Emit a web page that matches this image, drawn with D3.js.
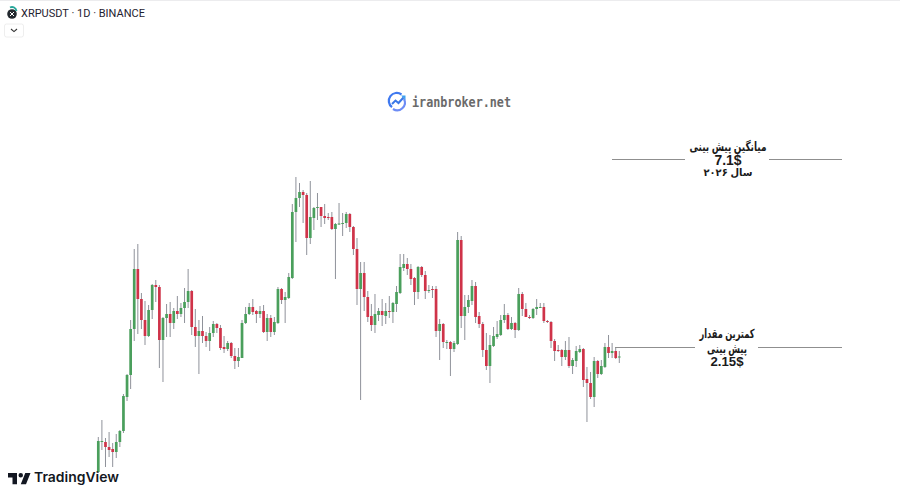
<!DOCTYPE html>
<html><head><meta charset="utf-8">
<style>html,body{margin:0;padding:0;background:#fff}svg{display:block}</style>
<script src="https://cdn.jsdelivr.net/npm/d3@7"></script></head>
<body><svg id="c" width="900" height="485"></svg>
<script>
const symbolTitle = "XRPUSDT · 1D · BINANCE";
const brand = "iranbroker.net";
const opens = [.90,1.20,1.20,1.15,1.13,1.10,1.20,1.31,1.65,1.87,2.33,2.93,2.63,2.42,2.26,2.52,2.77,2.75,2.22,2.44,2.48,2.39,2.51,2.48,2.54,2.60,2.71,2.35,2.26,2.31,2.26,2.21,2.29,
2.38,2.34,2.15,2.13,2.19,2.06,2.01,2.04,2.39,2.48,2.55,2.51,2.48,2.51,2.30,2.44,2.30,2.39,2.73,2.62,2.64,2.84,3.50,3.64,3.70,3.67,3.24,3.44,3.54,3.55,3.46,3.45,3.45,3.33,3.38,3.38,3.39,3.48,3.35,3.13,
2.73,2.89,2.65,2.46,2.37,2.47,2.51,2.46,2.51,2.50,2.58,2.69,2.94,2.98,2.93,2.84,2.70,2.95,2.87,2.72,2.73,2.73,2.31,2.38,2.20,2.20,2.13,2.18,3.22,2.46,2.55,2.61,2.76,2.46,2.38,2.12,1.96,2.16,
2.25,2.27,2.42,2.47,2.33,2.39,2.32,2.68,2.53,2.45,2.44,2.53,2.55,2.55,2.41,2.40,2.21,2.12,2.12,2.05,2.12,1.96,2.01,2.10,2.13,1.83,1.79,1.65,2.01,1.88,1.95,2.15,2.09,2.11,2.05];
const highs = [1.25,1.42,1.24,1.30,1.19,1.28,1.32,1.68,1.88,2.42,3.13,3.18,2.69,2.61,2.57,2.78,2.82,2.77,2.45,2.58,2.60,2.54,2.66,2.59,2.74,2.93,2.72,2.53,2.42,2.46,2.30,2.35,2.41,
2.39,2.37,2.26,2.21,2.20,2.14,2.14,2.42,2.55,2.59,2.63,2.52,2.56,2.57,2.48,2.47,2.45,2.75,2.74,2.70,2.89,3.58,3.85,3.79,3.72,3.69,3.81,3.55,3.69,3.55,3.58,3.49,3.50,3.39,3.59,3.49,3.50,3.49,3.36,3.24,
3.00,3.00,2.71,2.58,2.68,2.54,2.63,2.59,2.66,2.60,2.76,3.08,3.08,3.04,2.98,2.85,2.96,2.96,2.91,2.77,2.76,2.76,2.43,2.39,2.22,2.21,2.21,3.30,3.26,2.67,2.67,2.82,2.80,2.50,2.40,2.29,2.27,2.35,
2.41,2.47,2.58,2.49,2.45,2.40,2.74,2.70,2.59,2.47,2.54,2.63,2.59,2.59,2.42,2.41,2.23,2.17,2.13,2.21,2.25,2.04,2.16,2.17,2.14,1.95,1.90,2.05,2.02,2.02,2.19,2.27,2.19,2.14,2.11];
const lows = [.89,1.12,.95,1.05,.95,1.04,1.15,1.29,1.61,1.73,2.21,2.28,2.33,2.17,2.25,2.43,2.60,1.94,1.80,2.25,2.25,2.33,2.43,2.45,2.39,2.54,2.27,2.15,1.88,2.19,2.15,2.11,2.25,
2.29,2.12,2.09,2.11,2.04,1.93,1.95,2.04,2.38,2.47,2.47,2.39,2.44,2.29,2.21,2.25,2.27,2.38,2.58,2.39,2.63,2.83,3.20,3.55,3.39,3.07,3.18,3.32,3.42,3.35,3.38,3.42,3.32,2.83,3.37,3.26,3.34,3.30,3.07,2.57,
1.62,2.51,2.40,2.31,2.29,2.41,2.36,2.38,2.44,2.39,2.50,2.68,2.91,2.87,2.77,2.57,2.63,2.85,2.63,2.69,2.64,2.25,2.02,2.14,2.13,1.86,2.10,2.17,2.34,2.22,2.49,2.57,2.39,2.34,2.05,1.92,1.79,2.15,
2.23,2.26,2.39,2.32,2.32,2.24,2.31,2.46,2.45,2.43,2.43,2.47,2.54,2.39,2.39,2.14,2.01,2.10,1.96,2.02,1.94,1.88,1.95,2.09,1.75,1.40,1.63,1.55,1.84,1.87,1.94,2.04,2.04,2.03,1.99];
const closes = [1.21,1.21,1.15,1.12,1.10,1.20,1.31,1.66,1.87,2.33,2.93,2.63,2.42,2.26,2.52,2.77,2.75,2.22,2.44,2.48,2.39,2.51,2.48,2.54,2.60,2.71,2.35,2.26,2.31,2.26,2.21,2.29,2.38,
2.34,2.14,2.13,2.19,2.06,2.01,2.05,2.39,2.48,2.55,2.50,2.48,2.51,2.30,2.44,2.30,2.40,2.73,2.62,2.65,2.85,3.50,3.64,3.70,3.67,3.24,3.45,3.54,3.55,3.46,3.44,3.44,3.33,3.38,3.385,3.39,3.48,3.35,3.13,2.73,
2.89,2.65,2.45,2.37,2.48,2.51,2.47,2.51,2.50,2.59,2.70,2.95,2.98,2.93,2.83,2.70,2.95,2.87,2.71,2.72,2.72,2.31,2.38,2.20,2.20,2.13,2.19,3.22,2.46,2.55,2.62,2.76,2.45,2.38,2.12,1.96,2.17,2.26,
2.28,2.42,2.47,2.33,2.39,2.32,2.68,2.53,2.45,2.44,2.53,2.55,2.55,2.41,2.40,2.21,2.11,2.11,2.05,2.12,1.96,2.02,2.11,2.13,1.82,1.79,1.65,2.01,1.88,1.96,2.15,2.09,2.11,2.04,2.055];
const targets = [
  {level:4.03, lines:["میانگین پیش بینی","7.1$","سال ۲۰۲۶"]},
  {level:2.15, lines:["کمترین مقدار","پیش بینی","2.15$"]}
];
const UP="#4a9f5c", DOWN="#cf3349", WICK="#7b7e88";

const svg=d3.select("#c");
const x=d3.scaleLinear().domain([0,opens.length-1]).range([98.3,619.3]);
const y=d3.scaleLinear().domain([.77,5.62]).range([485,0]);
const data=opens.map((o,i)=>({i,o,h:highs[i],l:lows[i],c:closes[i]}));

svg.append("rect").attr("width",900).attr("height",1).attr("fill","#ececee");

// guide lines
const guides=[[612,685,769,842],[615,695,758,842]];
targets.forEach((t,k)=>{
  const g=guides[k];
  [[g[0],g[1]],[g[2],g[3]]].forEach(s=>svg.append("line")
    .attr("x1",s[0]).attr("x2",s[1]).attr("y1",y(t.level)+.5).attr("y2",y(t.level)+.5)
    .attr("stroke","#8f8f8f").attr("stroke-width",1));
});

// candles
const gC=svg.append("g").style("filter","blur(0.25px)");
const cs=gC.selectAll("g").data(data).join("g");
cs.append("line").attr("x1",d=>x(d.i)).attr("x2",d=>x(d.i)).attr("y1",d=>y(d.h)).attr("y2",d=>y(d.l))
  .attr("stroke",WICK).attr("stroke-width",.85);
cs.append("rect").attr("x",d=>x(d.i)-1.35).attr("width",2.7)
  .attr("y",d=>y(Math.max(d.o,d.c))).attr("height",d=>Math.max(1,Math.abs(y(d.o)-y(d.c))))
  .attr("fill",d=>d.c>=d.o?UP:DOWN);

// annotation text
const ann=[{cx:728,ys:[147,160.5,172],fs:[12.5,14,10.5],w:[77,27,49]},{cx:727,ys:[334,348.5,361],fs:[12.5,12.5,13.5],w:[55,40,33]}];
targets.forEach((t,k)=>t.lines.forEach((s,j)=>svg.append("text")
  .attr("x",ann[k].cx).attr("y",ann[k].ys[j]).attr("dy","0.35em").attr("text-anchor","middle")
  .attr("font-family","'Liberation Sans','DejaVu Sans',sans-serif").attr("font-weight","700")
  .attr("font-size",ann[k].fs[j]).attr("fill","#1a1a1a")
  .attr("textLength",ann[k].w[j]).attr("lengthAdjust","spacingAndGlyphs").text(s)));

// header
svg.append("text").attr("x",21).attr("y",17).attr("font-family","Roboto,sans-serif").attr("font-size",11).attr("fill","#1f2230").text(symbolTitle);
const ic=svg.append("g");
ic.append("circle").attr("cx",12).attr("cy",14).attr("r",4.8).attr("fill","#23292f");
ic.append("path").attr("d","M10 12l4 4M14 12l-4 4").attr("stroke","#fff").attr("stroke-width",1);
ic.append("path").attr("d","M10 7.5a4.5 4.5 0 0 1 6.5 3.5").attr("fill","none").attr("stroke","#26a69a").attr("stroke-width",1.8);
svg.append("rect").attr("x",4.5).attr("y",24).attr("width",19).attr("height",13).attr("rx",2).attr("fill","#fff").attr("stroke","#eeeeee");
svg.append("path").attr("d","M11 29l3 2.6 3-2.6").attr("fill","none").attr("stroke","#333").attr("stroke-width",1.1);

// watermark
const wm=svg.append("g").attr("transform","translate(388,93)");
wm.append("path").attr("d","M13.5 1.5A7.7 7.7 0 1 0 4 14.2").attr("fill","none").attr("stroke","#3f79f0").attr("stroke-width",2.2);
wm.append("path").attr("d","M16 6A7.7 7.7 0 0 1 5 16").attr("fill","none").attr("stroke","#6d8cf5").attr("stroke-width",2.2);
wm.append("path").attr("d","M4 11l3.5-3.5 3 2.5 5-5.5").attr("fill","none").attr("stroke","#3b78e7").attr("stroke-width",2);
wm.append("path").attr("d","M13 2.5h4.5v4.5z").attr("fill","#3fa0ee");
svg.append("text").attr("x",412).attr("y",107).attr("font-family","'DejaVu Sans Mono',monospace").attr("font-weight","700")
  .attr("font-size",14).attr("textLength",99).attr("lengthAdjust","spacingAndGlyphs").attr("fill","#6a6a6a").text(brand);

// TradingView logo
svg.append("path").attr("transform","translate(6.5,468.5) scale(.75)")
  .attr("d","M14 6H2v6h6v9h6V6Zm12 15h-7l6-15h7l-6 15Zm-7-9a3 3 0 1 0 0-6 3 3 0 0 0 0 6Z").attr("fill","#131722");
svg.append("text").attr("x",34).attr("y",482).attr("font-family","Inter,'Open Sans',sans-serif").attr("font-weight","600")
  .attr("font-size",13.5).attr("textLength",85).attr("lengthAdjust","spacingAndGlyphs").attr("fill","#131722").text("TradingView");
</script></body></html>
